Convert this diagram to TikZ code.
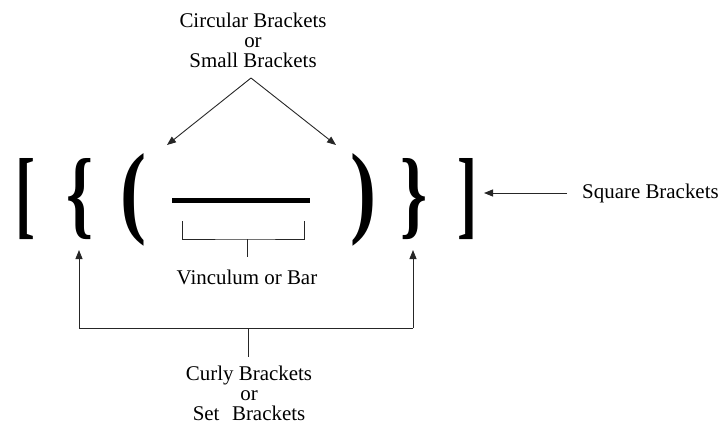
\documentclass[tikz,border=0pt]{standalone}
\usepackage{fontspec}
\setmainfont{Liberation Serif}
\usetikzlibrary{arrows.meta}
\tikzset{
  lbl/.style={font=\fontsize{21}{20}\selectfont, align=center, inner sep=0pt},
  glyph/.style={inner sep=0pt, outer sep=0pt},
  conn/.style={line width=0.9pt, draw=black!85},
  arr/.style={conn, -{Triangle[length=9bp,width=7bp]}}
}
\newcommand{\bigglyph}[3]{\resizebox{#1}{#2}{\bfseries #3}}
\begin{document}
\begin{tikzpicture}[x=1bp, y=-1bp]
  \useasboundingbox (0,0) rectangle (723,424);
  % the nested brackets
  \node[glyph] (sqL) at (25.5,199) {\bigglyph{20bp}{68bp}{[}};
  \node[glyph] (cuL) at (80,199) {\bigglyph{27bp}{68bp}{\{}};
  \node[glyph] (rdL) at (133.5,200) {\bigglyph{26bp}{71bp}{(}};
  \node[glyph] (rdR) at (363.5,200) {\bigglyph{26bp}{71bp}{)}};
  \node[glyph] (cuR) at (413.5,199) {\bigglyph{27bp}{68bp}{\}}};
  \node[glyph] (sqR) at (467,199) {\bigglyph{20bp}{68bp}{]}};
  % vinculum
  \coordinate (barL) at (172,200.5);
  \coordinate (barR) at (310,200.5);
  \draw[line width=4.5bp] (barL) -- (barR);

  % circular brackets label
  \node[lbl] (circ) at (253,40) {Circular Brackets\\or\\Small Brackets};
  \coordinate (apex) at (251,78);
  \coordinate (tipL) at (167,145);
  \coordinate (tipR) at (336,145);
  \draw[arr] (apex) -- (tipL);
  \draw[arr] (apex) -- (tipR);

  % square brackets label
  \node[lbl, anchor=west] (sq) at (582,193) {Square Brackets};
  \coordinate (sqTip) at (484,193);
  \draw[arr] (567,193) coordinate (sqStart) -- (sqTip);

  % vinculum label with its bracket
  \coordinate (vbL) at (182,221);
  \coordinate (vbR) at (304,221);
  \coordinate (vbM) at (247,239);
  \draw[conn] (vbL) |- (vbM) -| (vbR);
  \node[lbl] (vin) at (247,277) {Vinculum or Bar};
  \draw[conn] (vbM) -- (247,257) coordinate (vbEnd);

  % curly brackets label
  \node[lbl] (curly) at (249,393) {Curly Brackets\\or\\Set\hspace{0.35em} Brackets};
  \coordinate (cL) at (79,328);
  \coordinate (cR) at (413,328);
  \coordinate (cM) at (248,328);
  \draw[arr] (cL) -- (79,250) coordinate (cLtip);
  \draw[arr] (cR) -- (413,250) coordinate (cRtip);
  \draw[conn] (cL) -- (cR);
  \draw[conn] (cM) -- (248,357) coordinate (cMend);
\end{tikzpicture}
\end{document}
